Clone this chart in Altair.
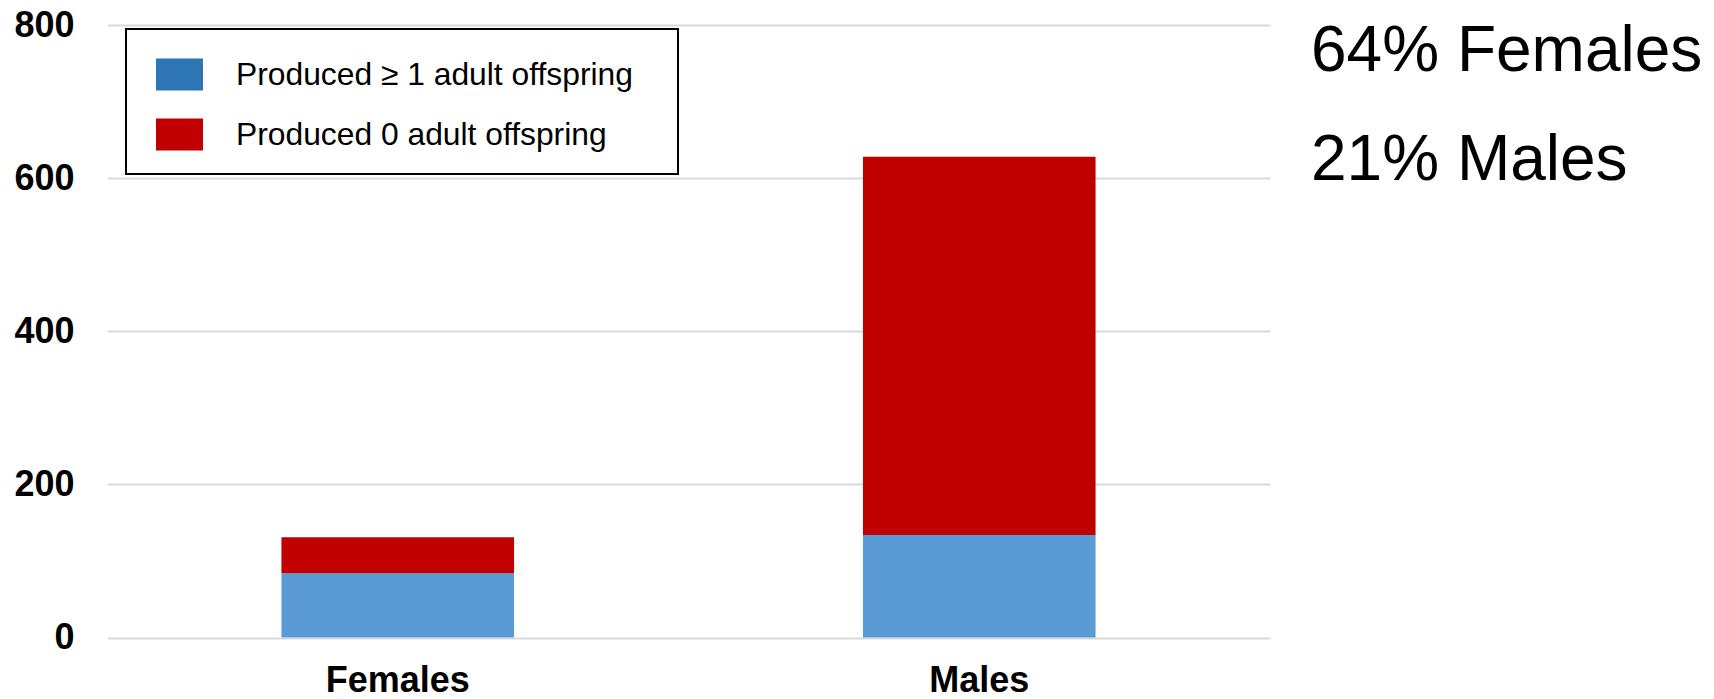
import altair as alt
import pandas as pd

groups = ["Females", "Males"]
outcomes = ["Produced ≥ 1 adult offspring", "Produced 0 adult offspring"]
produced_ge1 = [84, 134]
produced_0 = [47, 494]
bar_colors = ["#5B9BD5", "#C00000"]
legend_colors = ["#2E75B6", "#C00000"]
y_ticks = [0, 200, 400, 600, 800]
notes = ["64% Females", "21% Males"]

rows = []
for g, a, b in zip(groups, produced_ge1, produced_0):
    rows.append({"group": g, "outcome": outcomes[0], "count": a, "order": 0})
    rows.append({"group": g, "outcome": outcomes[1], "count": b, "order": 1})
df = pd.DataFrame(rows)

FONT = "Liberation Sans"

x_enc = alt.X(
    "group:N", sort=groups,
    scale=alt.Scale(paddingInner=0.6, paddingOuter=0.3),
    axis=alt.Axis(title=None, labelAngle=0, ticks=False, domain=False, grid=False,
                  labelPadding=26, labelFontSize=36, labelFontWeight="bold",
                  labelColor="black", labelFont=FONT),
)
y_enc = alt.Y(
    "count:Q", stack="zero",
    scale=alt.Scale(domain=[0, 800], nice=False),
    axis=alt.Axis(title=None, values=y_ticks, ticks=False, domain=False,
                  labelPadding=33, labelFontSize=36, labelFontWeight="bold",
                  labelColor="black", labelFont=FONT,
                  gridColor="#D9D9D9", gridWidth=2),
)

bars = alt.Chart(df).mark_bar().encode(
    x=x_enc, y=y_enc,
    color=alt.Color("outcome:N", scale=alt.Scale(domain=outcomes, range=bar_colors), legend=None),
    order=alt.Order("order:Q"),
)

legend_layer = alt.Chart(df).mark_bar(opacity=0).encode(
    x=x_enc, y=y_enc,
    color=alt.Color(
        "outcome:N",
        scale=alt.Scale(domain=outcomes, range=legend_colors),
        legend=alt.Legend(
            title=None, orient="none", legendX=19, legendY=4, direction="vertical",
            symbolType="M-1,-0.68H1V0.68H-1Z", symbolSize=2209, symbolOpacity=1,
            symbolStrokeWidth=0, symbolOffset=8,
            labelFontSize=31.8, labelFont=FONT, labelColor="black", labelOffset=33,
            labelLimit=800,
            labelExpr="datum.label + '\u2800'",
            padding=22, rowPadding=19,
            strokeColor="black", fillColor="white",
        ),
    ),
    order=alt.Order("order:Q"),
)

note_layers = []
for txt, ypos in zip(notes, [46, 155]):
    note_layers.append(
        alt.Chart(pd.DataFrame({"note": [txt]})).mark_text(
            align="left", baseline="alphabetic", fontSize=64, font=FONT, color="black"
        ).encode(x=alt.value(1204), y=alt.value(ypos), text="note:N")
    )

chart = alt.layer(legend_layer, bars, *note_layers).resolve_scale(
    color="independent"
).properties(
    width=1163, height=612.5,
    padding={"left": 107, "top": 25, "right": 444, "bottom": 61.5},
    autosize=alt.AutoSizeParams(type="none"),
    background="white",
).configure(font=FONT).configure_view(strokeWidth=0).configure_legend(strokeWidth=2)

chart.save("out.html", embed_options={"renderer": "svg", "actions": False})
